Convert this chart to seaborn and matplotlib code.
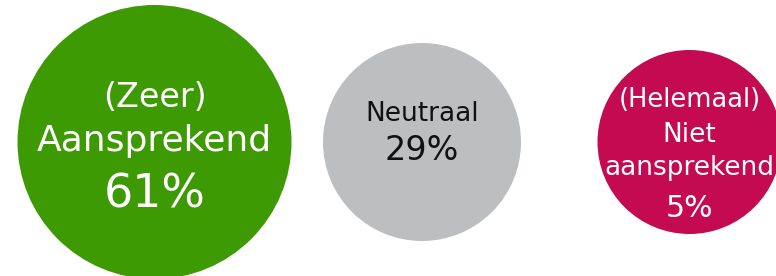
import matplotlib
matplotlib.use("Agg")
import matplotlib.pyplot as plt
import seaborn as sns
import pandas as pd

# Data: three answer groups with their share
categories = ["Aansprekend", "Neutraal", "Niet aansprekend"]
label_lines = [["(Zeer)", "Aansprekend"],
               ["Neutraal"],
               ["(Helemaal)", "Niet", "aansprekend"]]
percentages = [61, 29, 5]

# Styles
colors = ["#3e9a03", "#bdbec0", "#c40a50"]
text_colors = ["white", "#111111", "white"]
diameters_px = [274, 198, 184]   # bubble sizes are not to scale in the original

# Text layout: baseline offset from bubble centre (px) and font size per line
line_offsets = [[35, -9], [21], [35, 0, -33]]
line_sizes = [[24, 26], [19], [18.5, 19, 19]]
pct_offsets = [-65, -18, -75]
pct_sizes = [33, 24, 21.5]

DPI = 100
sns.set_style("white")
plt.rcParams["font.family"] = ["DejaVu Sans"]

fig = plt.figure(figsize=(7.76, 2.76), dpi=DPI)
ax = fig.add_axes([0, 0, 1, 1])

df = pd.DataFrame({"category": categories, "y": [0] * len(categories)})
sizes = {c: (d * 72 / DPI) ** 2 for c, d in zip(categories, diameters_px)}

sns.scatterplot(data=df, x="category", y="y", hue="category",
                palette=dict(zip(categories, colors)),
                size="category", sizes=sizes,
                linewidth=0, legend=False, ax=ax)

# map category positions so the bubbles land where they are in the picture
ax.set_xlim(-0.5776, 2.3234)
ax.set_ylim(-134, 142)
ax.axis("off")

for i in range(len(categories)):
    for text, off, fs in zip(label_lines[i], line_offsets[i], line_sizes[i]):
        ax.annotate(text, xy=(i, 0), xytext=(0, off), textcoords="offset pixels",
                    ha="center", va="baseline", fontsize=fs, color=text_colors[i])
    ax.annotate(f"{percentages[i]}%", xy=(i, 0), xytext=(0, pct_offsets[i]),
                textcoords="offset pixels", ha="center", va="baseline",
                fontsize=pct_sizes[i], color=text_colors[i])

fig.savefig("out.png", dpi=DPI)
